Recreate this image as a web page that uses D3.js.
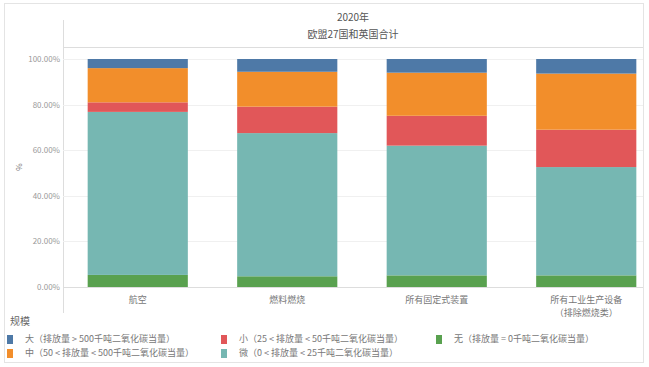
<!DOCTYPE html>
<html>
<head>
<meta charset="utf-8">
<script src="https://cdn.jsdelivr.net/npm/d3@7"></script>
<style>
  body { margin: 0; background: #fff; }
  text { font-family: "Noto Sans CJK SC", "Noto Sans", sans-serif; }
</style>
</head>
<body>
<div id="chart"></div>
<script>
// data (share of emissions, %)
var categories = ["航空", "燃料燃烧", "所有固定式装置", "所有工业生产设备"];
var sizeKeys = ["无", "微", "小", "中", "大"];
var valuesNone = [5.3, 4.7, 5.1, 5.1];
var valuesMicro = [71.5, 62.8, 56.9, 47.5];
var valuesSmall = [4.2, 11.6, 13.1, 16.4];
var valuesMedium = [15.0, 15.3, 18.9, 24.6];
var valuesLarge = [4.0, 5.6, 6.0, 6.4];
var yTicks = [0, 20, 40, 60, 80, 100];
var legendLabels = {
    "大": "大（排放量 > 500千吨二氧化碳当量）",
    "中": "中（50 < 排放量 < 500千吨二氧化碳当量）",
    "小": "小（25 < 排放量 < 50千吨二氧化碳当量）",
    "微": "微（0 < 排放量 < 25千吨二氧化碳当量）",
    "无": "无（排放量 = 0千吨二氧化碳当量）"
};

var width = 649;
var height = 367;

var svg = d3.select("#chart")
            .append("svg")
            .attr("width", width)
            .attr("height", height);

var table = categories.map(function(c, i) {
    return {
        cat: c,
        "无": valuesNone[i],
        "微": valuesMicro[i],
        "小": valuesSmall[i],
        "中": valuesMedium[i],
        "大": valuesLarge[i]
    };
});

var color = d3.scaleOrdinal()
              .domain(["大", "中", "小", "微", "无"])
              .range(["#4e79a7", "#f28e2b", "#e15759", "#76b7b2", "#59a14f"]);

var plotLeft = 63, plotRight = 643, plotTop = 59, plotBottom = 287;

var x = d3.scaleBand()
          .domain(categories)
          .range([plotLeft, plotLeft + 4 * 149.5])
          .paddingInner(0.33)
          .paddingOuter(0.165);

var y = d3.scaleLinear()
          .domain([0, 100])
          .range([plotBottom, plotTop]);

// outer frame
svg.append("rect")
   .attr("x", 4.5).attr("y", 3.5)
   .attr("width", 639).attr("height", 359)
   .attr("fill", "none")
   .attr("stroke", "#e4e4e4");

// header lines
svg.append("line")
   .attr("x1", plotLeft + 0.5).attr("x2", plotLeft + 0.5)
   .attr("y1", 20).attr("y2", 313)
   .attr("stroke", "#ddd");
svg.append("line")
   .attr("x1", plotLeft).attr("x2", plotRight)
   .attr("y1", 47.5).attr("y2", 47.5)
   .attr("stroke", "#ddd");

svg.append("text")
   .attr("x", 353).attr("y", 21)
   .attr("text-anchor", "middle")
   .attr("font-size", 10)
   .attr("fill", "#555")
   .text("2020年");
svg.append("text")
   .attr("x", 353).attr("y", 38)
   .attr("text-anchor", "middle")
   .attr("font-size", 10)
   .attr("fill", "#555")
   .text("欧盟27国和英国合计");

// gridlines
svg.append("g")
   .selectAll("line")
   .data(yTicks)
   .enter()
   .append("line")
   .attr("x1", plotLeft).attr("x2", plotRight)
   .attr("y1", (d) => Math.round(y(d)) + 0.5)
   .attr("y2", (d) => Math.round(y(d)) + 0.5)
   .attr("stroke", (d) => d === 0 ? "#ddd" : "#f0f0f0");

// y axis
var yaxis = d3.axisLeft(y)
              .tickValues(yTicks)
              .tickSize(0)
              .tickPadding(3)
              .tickFormat((d) => d.toFixed(2) + "%");

var gy = svg.append("g")
            .attr("transform", "translate(" + plotLeft + ",0)")
            .call(yaxis);
gy.select(".domain").remove();
gy.selectAll("text")
  .attr("font-size", 8)
  .attr("fill", "#999");

svg.append("text")
   .attr("transform", "translate(22,167) rotate(-90)")
   .attr("text-anchor", "middle")
   .attr("font-size", 8)
   .attr("fill", "#777")
   .text("%");

// stacked bars
var stack = d3.stack().keys(sizeKeys);
var series = stack(table);

svg.append("g")
   .selectAll("g")
   .data(series)
   .enter()
   .append("g")
   .attr("fill", (d) => color(d.key))
   .selectAll("rect")
   .data((d) => d)
   .enter()
   .append("rect")
   .attr("x", (d) => x(d.data.cat))
   .attr("y", (d) => y(d[1]))
   .attr("width", x.bandwidth())
   .attr("height", (d) => y(d[0]) - y(d[1]));

// category labels
var xaxis = d3.axisBottom(x).tickSize(0).tickPadding(0);
var gx = svg.append("g")
            .attr("transform", "translate(0," + 297 + ")")
            .call(xaxis);
gx.select(".domain").remove();
gx.selectAll("text")
  .attr("font-size", 9)
  .attr("fill", "#777")
  .attr("dy", "0.71em");
gx.selectAll(".tick")
  .filter((d) => d === "所有工业生产设备")
  .append("text")
  .attr("y", 13)
  .attr("dy", "0.71em")
  .attr("text-anchor", "middle")
  .attr("font-size", 9)
  .attr("fill", "#777")
  .text("（排除燃烧类）");

// legend
svg.append("text")
   .attr("x", 10).attr("y", 325)
   .attr("font-size", 10)
   .attr("fill", "#666")
   .text("规模");

var legendOrder = ["大", "中", "小", "微", "无"];
var legend = svg.append("g")
                .selectAll("g")
                .data(legendOrder)
                .enter()
                .append("g")
                .attr("transform", function(d, i) {
                    var col = Math.floor(i / 2);
                    var row = i % 2;
                    var cx = [7, 221, 436][col];
                    return "translate(" + cx + "," + (339 + row * 14) + ")";
                });

legend.append("rect")
      .attr("x", 0).attr("y", -4)
      .attr("width", 6).attr("height", 9)
      .attr("fill", (d) => color(d));

legend.append("text")
      .attr("x", 18)
      .attr("y", 0)
      .attr("dy", "0.35em")
      .attr("font-size", 9)
      .attr("fill", "#777")
      .text((d) => legendLabels[d]);
</script>
</body>
</html>
